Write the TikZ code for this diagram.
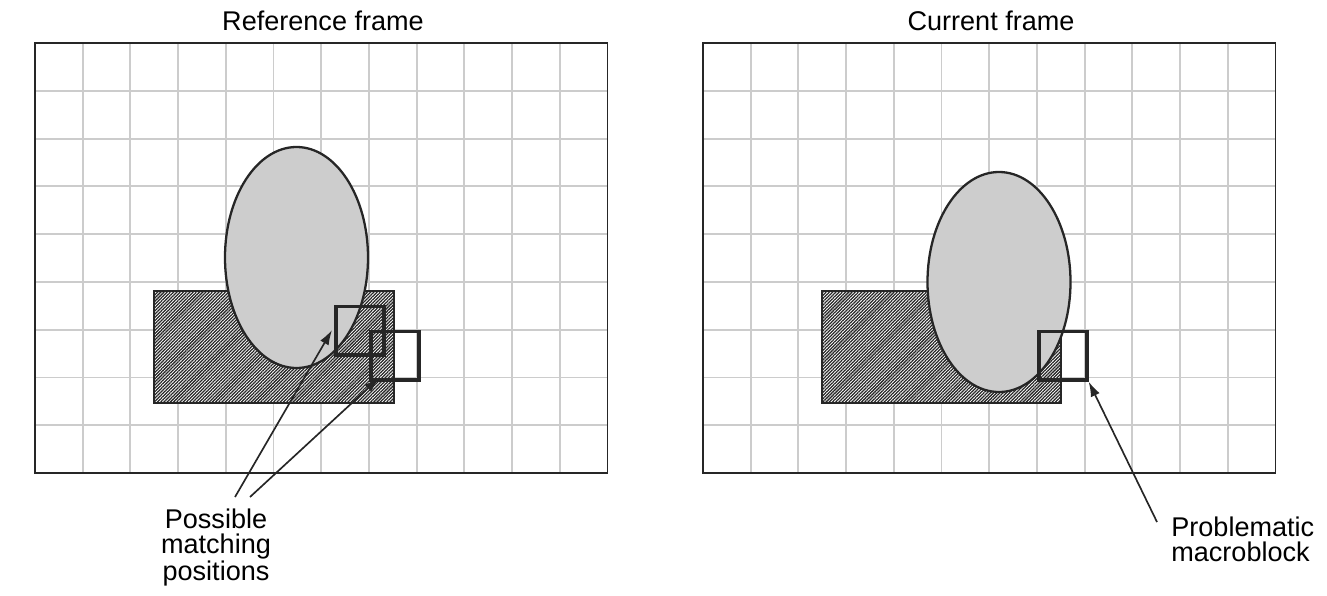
\documentclass[tikz,border=0pt]{standalone}
\usepackage{fontspec}
\setmainfont{Liberation Sans}
\usetikzlibrary{patterns.meta,arrows.meta}
\definecolor{gridgray}{HTML}{CCCCCC}
\definecolor{ink}{HTML}{262626}
\definecolor{blobgray}{HTML}{CDCDCD}
\begin{document}
\begin{tikzpicture}[x=0.02cm,y=-0.02cm,
  gridline/.style={draw=gridgray,line width=1.1pt},
  framebox/.style={draw=ink,line width=0.9pt},
  hatchrect/.style={draw=ink,line width=1.2pt,fill=white,
    postaction={pattern={Lines[angle=45,distance=1.3pt,line width=0.72pt]},pattern color=ink}},
  blob/.style={draw=ink,line width=1.3pt,fill=blobgray},
  mbbox/.style={draw=ink,line width=2.1pt},
  pointer/.style={draw=ink,line width=0.95pt,-{Latex[length=8.5pt,width=5.5pt]}},
  lbl/.style={font=\fontsize{15.4}{13.9}\selectfont,align=center,inner sep=0pt},
  title/.style={font=\fontsize{15.4}{16}\selectfont,inner sep=0pt}]
\useasboundingbox (0,0) rectangle (1327,595);
% grids
\foreach \ox in {35,703}{
  \foreach \i in {1,...,11} \draw[gridline] ({\ox+\i*47.7},43) -- ({\ox+\i*47.7},473);
  \foreach \j in {1,...,8} \draw[gridline] (\ox,{43+\j*47.78}) -- ({\ox+572.5},{43+\j*47.78});
  \draw[framebox] (\ox,43) rectangle ({\ox+572.5},473);
}
% titles
\node[title,anchor=base] (tref) at (323,31) {Reference frame};
\node[title,anchor=base] (tcur) at (991,31) {Current frame};
% reference frame objects
\draw[hatchrect] (154,291) rectangle (394,403);
\draw[blob] (296.5,257.5) ellipse [x radius=71.5, y radius=110.5];
\node[mbbox,minimum width=48*0.02cm,minimum height=48.5*0.02cm,inner sep=0pt,anchor=north west] (boxa) at (334,304.5) {};
\node[mbbox,minimum width=48*0.02cm,minimum height=48.5*0.02cm,inner sep=0pt,anchor=north west] (boxb) at (369,329.5) {};
% current frame objects
\draw[hatchrect] (822,291) rectangle (1061,403);
\draw[blob] (999,282) ellipse [x radius=71.5, y radius=110];
\node[mbbox,minimum width=48*0.02cm,minimum height=48.5*0.02cm,inner sep=0pt,anchor=north west] (boxc) at (1037,329.5) {};
% labels
\node[lbl,anchor=north] (possible) at (216,509) {Possible\\matching\\positions};
\node[lbl,anchor=north west,align=left] (problem) at (1171,517) {Problematic\\macroblock};
% arrows
\coordinate (pa) at (235,497);
\coordinate (pb) at (250,497);
\coordinate (pc) at (1157,522);
\coordinate (ta) at (332,330);
\coordinate (tb) at (379,378);
\draw[pointer] (pa) -- (ta);
\draw[pointer] (pb) -- (tb);
\draw[pointer] (pc) -- (boxc.south east);
\end{tikzpicture}
\end{document}
